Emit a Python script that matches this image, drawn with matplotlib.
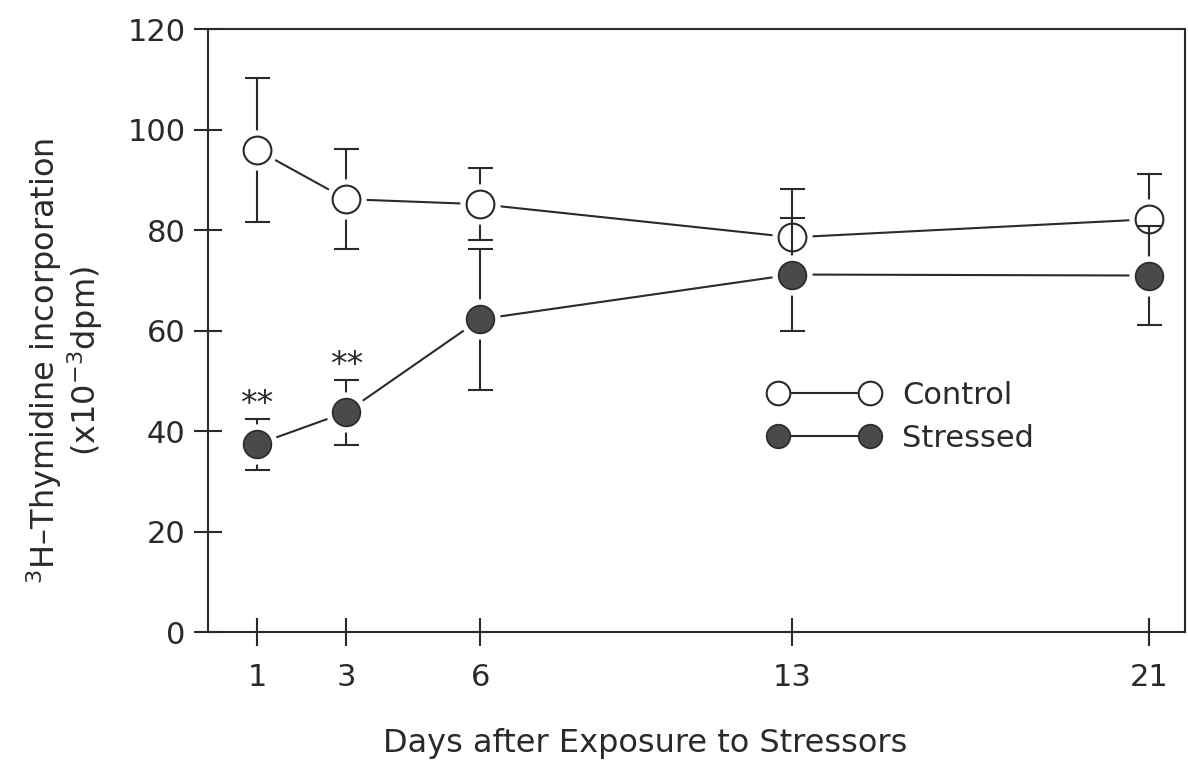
import matplotlib
matplotlib.use("Agg")
import matplotlib.pyplot as plt
from matplotlib.lines import Line2D

days = [1, 3, 6, 13, 21]
control = [96.0, 86.2, 85.2, 78.6, 82.2]
control_err = [14.3, 10.0, 7.2, 9.6, 9.0]
stressed = [37.4, 43.8, 62.3, 71.2, 71.0]
stressed_err = [5.1, 6.5, 14.0, 11.2, 9.8]
signif = ["**", "**", "", "", ""]

plt.rcParams['font.family'] = ['DejaVu Sans']
fig = plt.figure(figsize=(11.88, 7.72), dpi=100)
ax = fig.add_axes([0.175, 0.181, 0.8225, 0.781])

ink = "#2a2a2a"
dark = "#4a4a4a"
ms = 20

# control series: line + error bars, then white halo and marker
ax.errorbar(days, control, yerr=control_err, color=ink, lw=1.5, elinewidth=1.5,
            capsize=9, capthick=1.5, fmt='-', zorder=2)
ax.plot(days, control, 'o', ms=ms + 8, mfc='white', mec='white', zorder=3)
ax.plot(days, control, 'o', ms=ms, mfc='white', mec=ink, mew=1.5, zorder=4)

# stressed series
ax.errorbar(days, stressed, yerr=stressed_err, color=ink, lw=1.5, elinewidth=1.5,
            capsize=9, capthick=1.5, fmt='-', zorder=5)
ax.plot(days, stressed, 'o', ms=ms + 8, mfc='white', mec='white', zorder=6)
ax.plot(days, stressed, 'o', ms=ms, mfc=dark, mec=ink, mew=1.2, zorder=7)

for d, v, e, s in zip(days, stressed, stressed_err, signif):
    if s:
        ax.text(d, v + e + 2.8, s, ha='center', va='center', fontsize=24, color=ink)

ax.set_xlim(-0.1, 21.8)
ax.set_ylim(0, 120)
ax.set_xticks(days)
ax.set_yticks([0, 20, 40, 60, 80, 100, 120])
ax.tick_params(axis='both', direction='inout', length=20, width=1.5,
               labelsize=22, colors=ink, top=False, right=False)
ax.tick_params(axis='x', pad=12)
ax.tick_params(axis='y', pad=6)
for sp in ax.spines.values():
    sp.set_linewidth(1.5)
    sp.set_color(ink)

ax.set_xlabel("Days after Exposure to Stressors", fontsize=23, color=ink,
              labelpad=26, x=0.448)
ax.set_ylabel("$^{3}$H\u2013Thymidine incorporation\n(x10$^{-3}$dpm)",
              fontsize=23, color=ink, labelpad=16, linespacing=1.05, y=0.45)

h_c = Line2D([], [], color=ink, lw=1.5, marker='o', ms=17, mfc='white', mec=ink, mew=1.5)
h_s = Line2D([], [], color=ink, lw=1.5, marker='o', ms=17, mfc=dark, mec=ink, mew=1.2)
ax.legend([h_c, h_s], ["Control", "Stressed"], numpoints=2, frameon=False,
          fontsize=22, loc='upper left', bbox_to_anchor=(0.568, 0.427),
          handlelength=3.6, handletextpad=0.75, labelspacing=0.45, labelcolor=ink,
          borderpad=0.2, borderaxespad=0.0)

fig.savefig("out.png", dpi=100)
